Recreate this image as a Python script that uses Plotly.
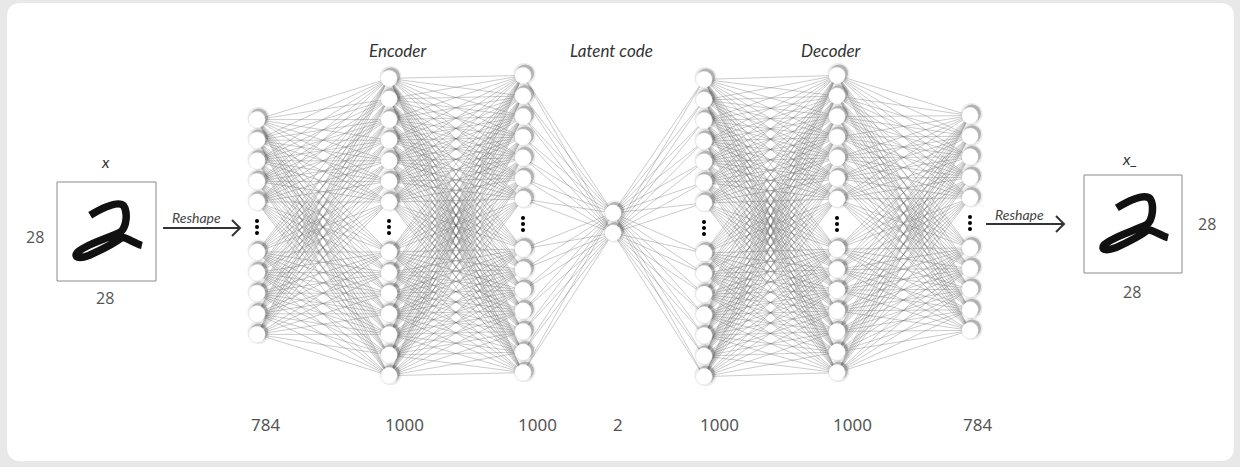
import plotly.graph_objects as go

# ---------------- data ----------------
layer_sizes = ["784", "1000", "1000", "2", "1000", "1000", "784"]
nodes_shown = [10, 14, 14, 2, 14, 14, 10]
section_titles = ["Encoder", "Latent code", "Decoder"]
image_side = "28"
input_label = "x"
output_label = "x_"
reshape_label = "Reshape"
# handwritten "2" stroke (cubic bezier control points, 28x28 pixel units)
digit_stroke = [
    (9.4, 9.4),
    (13.2, 7.1), (17.5, 5.2), (18.9, 6.8),
    (20.0, 8.5), (19.8, 12.7), (17.9, 14.2),
    (14.2, 16.0), (7.5, 17.9), (5.7, 20.0),
    (4.7, 21.2), (6.1, 21.9), (9.0, 20.8),
    (12.3, 19.3), (16.0, 17.5), (18.4, 15.6),
    (20.3, 16.0), (22.2, 17.5), (24.0, 17.9),
]

# ---------------- layout constants ----------------
W, H = 1240, 467
layer_x = [257, 389, 523, 613, 704, 837, 970]
layer_cy = [227, 227, 224, 223, 228, 224, 223]
label_x = [265, 404, 537, 618, 719, 852, 977]
label_y = 424
title_pos = [(398, 50), (611, 50), (831, 50)]
spacing = 20.6
gap_half = 25
in_box = (57, 182, 99)
out_box = (1084, 175, 98)

def node_ys(n, cy):
    if n <= 2:
        return [cy - 10, cy + 10][:n]
    half = n // 2
    above = [cy - gap_half - k * spacing for k in range(half)][::-1]
    below = [cy + gap_half + k * spacing for k in range(half)]
    return above + below

layers = [(x, node_ys(n, cy)) for x, n, cy in zip(layer_x, nodes_shown, layer_cy)]

fig = go.Figure()

# edges
ex, ey = [], []
for (x1, ys1), (x2, ys2) in zip(layers[:-1], layers[1:]):
    for y1 in ys1:
        for y2 in ys2:
            ex += [x1, x2, None]
            ey += [y1, y2, None]
fig.add_trace(go.Scatter(x=ex, y=ey, mode="lines",
                         line=dict(color="rgba(95,95,95,0.55)", width=0.6),
                         hoverinfo="skip", showlegend=False))

# nodes (soft shadow + white disc)
nx, ny = [], []
for x, ys in layers:
    nx += [x] * len(ys)
    ny += ys
fig.add_trace(go.Scatter(x=[v + 1.5 for v in nx], y=[v - 1.5 for v in ny], mode="markers",
                         marker=dict(size=22, color="rgba(80,80,80,0.12)", line=dict(width=0)),
                         hoverinfo="skip", showlegend=False))
fig.add_trace(go.Scatter(x=[v + 2 for v in nx], y=[v - 2 for v in ny], mode="markers",
                         marker=dict(size=18, color="rgba(50,50,50,0.30)", line=dict(width=0)),
                         hoverinfo="skip", showlegend=False))
fig.add_trace(go.Scatter(x=nx, y=ny, mode="markers",
                         marker=dict(size=16.5, color="white", line=dict(width=0.4, color="#e4e4e4")),
                         hoverinfo="skip", showlegend=False))

# ellipsis dots
dx, dy = [], []
for (x, ys), n, cy in zip(layers, nodes_shown, layer_cy):
    if n > 2:
        dx += [x] * 3
        dy += [cy - 6, cy, cy + 6]
fig.add_trace(go.Scatter(x=dx, y=dy, mode="markers",
                         marker=dict(size=4, color="black"),
                         hoverinfo="skip", showlegend=False))

# reshape arrows
for (x0, x1, y) in [(163, 240, 228), (986, 1064, 224)]:
    fig.add_trace(go.Scatter(x=[x0, x1, None, x1 - 8, x1, x1 - 8],
                             y=[y, y, None, y - 8, y, y + 8],
                             mode="lines", line=dict(color="#333", width=2),
                             hoverinfo="skip", showlegend=False))

shapes = []
# background card
r = 14
x0, y0, x1, y1 = 7, 3, 1234, 461
shapes.append(dict(type="path", xref="x", yref="y", layer="below",
                   path=f"M {x0+r} {y0} L {x1-r} {y0} Q {x1} {y0} {x1} {y0+r} L {x1} {y1-r} "
                        f"Q {x1} {y1} {x1-r} {y1} L {x0+r} {y1} Q {x0} {y1} {x0} {y1-r} "
                        f"L {x0} {y0+r} Q {x0} {y0} {x0+r} {y0} Z",
                   fillcolor="white", line=dict(width=0)))

def digit_path(box):
    bx, by, bw = box
    s = bw / 28.0
    pts = [(bx + u * s, by + v * s) for u, v in digit_stroke]
    p = f"M {pts[0][0]:.1f} {pts[0][1]:.1f}"
    for i in range(1, len(pts), 3):
        a, b, c = pts[i], pts[i + 1], pts[i + 2]
        p += f" C {a[0]:.1f} {a[1]:.1f}, {b[0]:.1f} {b[1]:.1f}, {c[0]:.1f} {c[1]:.1f}"
    return p

for box in (in_box, out_box):
    bx, by, bw = box
    shapes.append(dict(type="rect", xref="x", yref="y", x0=bx, y0=by, x1=bx + bw, y1=by + bw,
                       line=dict(color="#8a8a8a", width=1), fillcolor="white"))
    shapes.append(dict(type="path", xref="x", yref="y", path=digit_path(box),
                       line=dict(color="#111", width=7.5)))

ann = []
hand = dict(family="Lato, DejaVu Sans", size=17, color="#333")
for t, (x, y) in zip(section_titles, title_pos):
    ann.append(dict(x=x, y=y, text=f"<i>{t}</i>", font=hand))
numfont = dict(family="Liberation Sans Narrow, Noto Sans", size=17, color="#555")
for t, x in zip(layer_sizes, label_x):
    ann.append(dict(x=x, y=label_y, text=t, font=numfont))
side_font = dict(family="Open Sans, Noto Sans", size=16, color="#555")
ann += [
    dict(x=35, y=237, text=image_side, font=side_font),
    dict(x=105, y=298, text=image_side, font=side_font),
    dict(x=1207, y=224, text=image_side, font=side_font),
    dict(x=1132, y=292, text=image_side, font=side_font),
    dict(x=105, y=161, text=f"<i>{input_label}</i>", font=dict(family="Lato, DejaVu Sans", size=16, color="#333")),
    dict(x=1130, y=158, text=f"<i>{output_label}</i>", font=dict(family="Lato, DejaVu Sans", size=16, color="#333")),
    dict(x=196, y=217, text=f"<i>{reshape_label}</i>", font=dict(family="Lato, DejaVu Sans", size=14, color="#444")),
    dict(x=1019, y=214, text=f"<i>{reshape_label}</i>", font=dict(family="Lato, DejaVu Sans", size=14, color="#444")),
]
for a in ann:
    a.update(xref="x", yref="y", showarrow=False, xanchor="center", yanchor="middle")

fig.update_layout(
    width=W, height=H,
    margin=dict(l=0, r=0, t=0, b=0),
    paper_bgcolor="#e8e8e8", plot_bgcolor="rgba(0,0,0,0)",
    xaxis=dict(range=[0, W], visible=False, fixedrange=True),
    yaxis=dict(range=[H, 0], visible=False, fixedrange=True),
    shapes=shapes, annotations=ann, showlegend=False,
)
fig.write_html("out.html", config={"displayModeBar": False},
               post_script="document.body.style.margin='0';document.body.style.background='#e8e8e8';")
